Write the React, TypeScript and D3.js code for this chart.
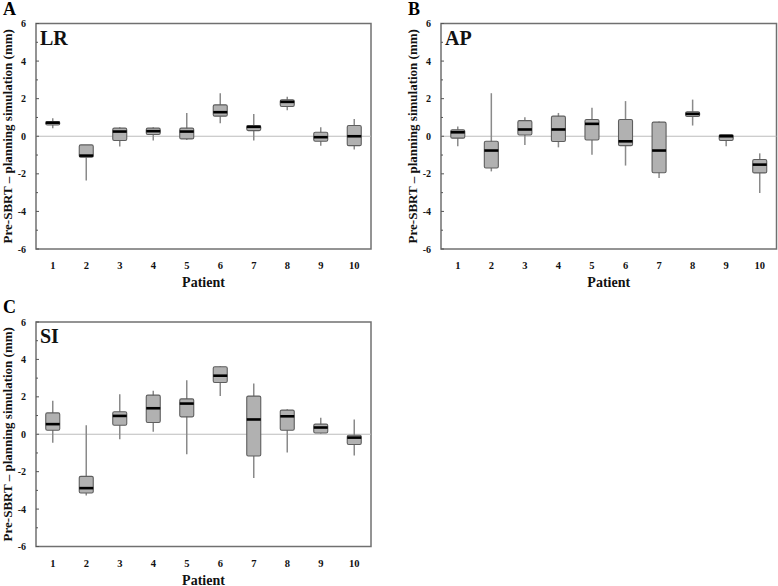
import React from "react";
import * as d3 from "d3";

const patients = ["1", "2", "3", "4", "5", "6", "7", "8", "9", "10"];
const yTicks = [-6, -4, -2, 0, 2, 4, 6];
const yMinorTicks = [-5, -3, -1, 1, 3, 5];

// [whiskerLow, q1, median, q3, whiskerHigh]
const lrStats: number[][] = [
  [0.43, 0.6, 0.72, 0.78, 0.96],
  [-2.36, -1.12, -1.03, -0.46, -0.46],
  [-0.55, -0.23, 0.25, 0.43, 0.48],
  [-0.23, 0.09, 0.27, 0.43, 0.48],
  [-0.2, -0.14, 0.25, 0.43, 1.24],
  [0.69, 1.07, 1.28, 1.67, 2.29],
  [-0.23, 0.3, 0.5, 0.57, 1.19],
  [1.39, 1.58, 1.83, 1.94, 2.1],
  [-0.5, -0.27, -0.05, 0.21, 0.48],
  [-0.71, -0.5, 0.0, 0.57, 0.92],
];

const apStats: number[][] = [
  [-0.53, -0.1, 0.21, 0.34, 0.52],
  [-1.87, -1.69, -0.76, -0.27, 2.29],
  [-0.46, 0.07, 0.36, 0.83, 1.01],
  [-0.59, -0.28, 0.36, 1.07, 1.24],
  [-0.99, -0.2, 0.66, 0.89, 1.51],
  [-1.56, -0.5, -0.27, 0.89, 1.87],
  [-2.22, -1.94, -0.76, 0.75, 0.78],
  [0.57, 1.05, 1.19, 1.3, 1.95],
  [-0.53, -0.23, 0.0, 0.09, 0.12],
  [-3.02, -1.95, -1.51, -1.24, -0.91],
];

const siStats: number[][] = [
  [-0.45, 0.21, 0.54, 1.14, 1.79],
  [-3.27, -3.14, -2.88, -2.25, 0.48],
  [-0.27, 0.48, 0.98, 1.2, 2.14],
  [0.13, 0.63, 1.39, 2.09, 2.32],
  [-1.07, 0.93, 1.64, 1.89, 2.89],
  [2.05, 2.77, 3.13, 3.61, 3.64],
  [-2.34, -1.16, 0.79, 2.04, 2.71],
  [-0.98, 0.21, 0.96, 1.29, 1.34],
  [0.04, 0.07, 0.36, 0.54, 0.88],
  [-1.13, -0.55, -0.18, -0.05, 0.79],
];

const panelLetters = ["A", "B", "C"];
const panelTitles = ["LR", "AP", "SI"];
const yTitle = "Pre-SBRT \u2013 planning simulation (mm)";
const xTitle = "Patient";

const FONT = "'Liberation Serif', 'Times New Roman', serif";

type PanelProps = {
  left: number;
  right: number;
  top: number;
  bottom: number;
  letter: string;
  title: string;
  stats: number[][];
};

function Panel({ left, right, top, bottom, letter, title, stats }: PanelProps) {
  const x = d3.scaleBand<string>().domain(patients).range([left, right]).padding(0);
  const y = d3.scaleLinear().domain([-6, 6]).range([bottom, top]);
  const boxW = 14;
  const midY = (top + bottom) / 2;
  return (
    <g>
      <text x={left - 33} y={top - 9} fontFamily={FONT} fontWeight="bold" fontSize={18} fill="#000">
        {letter}
      </text>
      <rect x={left} y={top} width={right - left} height={bottom - top} fill="#fff" stroke="#707070" strokeWidth={1.5} />
      <line x1={left} x2={right} y1={y(0)} y2={y(0)} stroke="#bdbdbd" strokeWidth={1.2} />
      {yTicks.map((t) => (
        <g key={"t" + t}>
          <line x1={left} x2={left + 3} y1={y(t)} y2={y(t)} stroke="#555" strokeWidth={1} />
          <text x={left - 10} y={y(t) + 3.5} textAnchor="end" fontFamily={FONT} fontWeight="bold" fontSize={10} fill="#111">
            {t}
          </text>
        </g>
      ))}
      {yMinorTicks.map((t) => (
        <line key={"m" + t} x1={left} x2={left + 2} y1={y(t)} y2={y(t)} stroke="#555" strokeWidth={1} />
      ))}
      {patients.map((p, i) => {
        const [lo, q1, med, q3, hi] = stats[i];
        const cx = (x(p) as number) + x.bandwidth() / 2;
        return (
          <g key={p}>
            <line x1={cx} x2={cx} y1={y(hi)} y2={y(lo)} stroke="#8a8a8a" strokeWidth={1.5} />
            <rect
              x={cx - boxW / 2}
              y={y(q3)}
              width={boxW}
              height={Math.max(1, y(q1) - y(q3))}
              rx={1.5}
              fill="#b1b1b1"
              stroke="#5e5e5e"
              strokeWidth={1.1}
            />
            <line x1={cx - boxW / 2} x2={cx + boxW / 2} y1={y(med)} y2={y(med)} stroke="#000" strokeWidth={2.6} />
            <text x={cx} y={bottom + 20} textAnchor="middle" fontFamily={FONT} fontWeight="bold" fontSize={10.5} fill="#111">
              {p}
            </text>
          </g>
        );
      })}
      <text x={left + 4} y={top + 21} fontFamily={FONT} fontWeight="bold" fontSize={20} fill="#111">
        {title}
      </text>
      <text x={(left + right) / 2} y={bottom + 38} textAnchor="middle" fontFamily={FONT} fontWeight="bold" fontSize={14} fill="#111">
        {xTitle}
      </text>
      <text
        transform={`translate(${left - 24},${midY}) rotate(-90)`}
        textAnchor="middle"
        fontFamily={FONT}
        fontWeight="bold"
        fontSize={13}
        fill="#111"
      >
        {yTitle}
      </text>
    </g>
  );
}

export default function App() {
  return (
    <svg
      width={778}
      height={586}
      style={{ position: "absolute", left: 0, top: 0, background: "#fff" }}
    >
      <Panel left={36} right={371} top={23.5} bottom={249} letter={panelLetters[0]} title={panelTitles[0]} stats={lrStats} />
      <Panel left={441} right={776.5} top={23.5} bottom={249} letter={panelLetters[1]} title={panelTitles[1]} stats={apStats} />
      <Panel left={36} right={371} top={322} bottom={546.5} letter={panelLetters[2]} title={panelTitles[2]} stats={siStats} />
    </svg>
  );
}
